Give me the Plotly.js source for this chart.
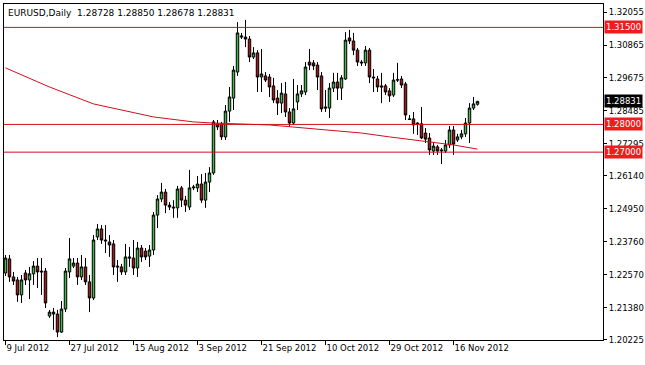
<!DOCTYPE html>
<html>
<head>
<meta charset="utf-8">
<script src="https://cdn.plot.ly/plotly-3.0.1.min.js"></script>
<style>
  html, body { margin: 0; padding: 0; background: #ffffff; }
  #chart { width: 645px; height: 365px; }
</style>
</head>
<body>
<div id="chart"></div>
<script>
// ---- Data: EURUSD Daily (MetaTrader chart, incl. Sunday bars) ----
const startDate = '2012-07-09';
const opens = [
 1.2264,1.2315,1.2250,1.2239,1.2185,1.2264,1.2239,1.2261,1.2289,1.2271,
 1.2271,1.2109,1.2123,1.2116,1.2051,1.2134,1.2268,1.2289,1.2300,1.2250,
 1.2286,1.2232,1.2174,1.2394,1.2423,1.2383,1.2376,1.2369,1.2289,1.2286,
 1.2268,1.2322,1.2318,1.2282,1.2354,1.2343,1.2325,1.2347,1.2473,1.2531,
 1.2556,1.2509,1.2502,1.2499,1.2571,1.2527,1.2502,1.2571,1.2571,1.2585,
 1.2527,1.2592,1.2625,1.2802,1.2802,1.2755,1.2848,1.2895,1.2989,1.3115,
 1.3115,1.3108,1.3043,1.3058,1.2971,1.2975,1.2971,1.2939,1.2895,1.2877,
 1.2910,1.2845,1.2805,1.2881,1.2910,1.2917,1.3025,1.3022,1.3014,1.2975,
 1.2863,1.2859,1.2931,1.2953,1.2931,1.2964,1.3112,1.3101,1.3068,1.3025,
 1.3022,1.3068,1.2971,1.2964,1.2939,1.2939,1.2921,1.2906,1.2960,1.2964,
 1.2946,1.2820,1.2820,1.2805,1.2802,1.2769,1.2751,1.2704,1.2719,1.2708,
 1.2704,1.2726,1.2780,1.2744,1.2755,1.2766,1.2805,1.2859,1.28728
];
const highs = [
 1.2329,1.2329,1.2268,1.2250,1.2257,1.2275,1.2286,1.2307,1.2318,1.2318,
 1.2282,1.2131,1.2138,1.2131,1.2163,1.2282,1.2390,1.2318,1.2318,1.2329,
 1.2318,1.2257,1.2401,1.2441,1.2437,1.2437,1.2401,1.2383,1.2311,1.2297,
 1.2369,1.2358,1.2383,1.2376,1.2365,1.2354,1.2365,1.2484,1.2545,1.2589,
 1.2567,1.2520,1.2527,1.2578,1.2578,1.2542,1.2636,1.2582,1.2614,1.2621,
 1.2625,1.2646,1.2816,1.2816,1.2809,1.2870,1.2935,1.3011,1.3169,1.3130,
 1.3177,1.3119,1.3079,1.3068,1.3072,1.2989,1.2982,1.2968,1.2924,1.2949,
 1.2953,1.2859,1.2964,1.2942,1.2942,1.3025,1.3072,1.3032,1.3025,1.2989,
 1.2924,1.2949,1.2986,1.2986,1.2978,1.3133,1.3141,1.3130,1.3076,1.3032,
 1.3083,1.3076,1.3000,1.2975,1.2986,1.2946,1.2931,1.2986,1.3022,1.2975,
 1.2953,1.2834,1.2845,1.2808,1.2863,1.2787,1.2769,1.2737,1.2726,1.2715,
 1.2744,1.2794,1.2794,1.2766,1.2780,1.2823,1.2877,1.2899,1.28850
];
const lows = [
 1.2253,1.2232,1.2221,1.2160,1.2156,1.2221,1.2170,1.2221,1.2210,1.2185,
 1.2138,1.2102,1.2059,1.2033,1.2048,1.2123,1.2246,1.2282,1.2221,1.2239,
 1.2221,1.2123,1.2167,1.2383,1.2369,1.2336,1.2322,1.2257,1.2232,1.2257,
 1.2257,1.2286,1.2257,1.2250,1.2304,1.2311,1.2286,1.2329,1.2426,1.2520,
 1.2480,1.2491,1.2463,1.2463,1.2502,1.2484,1.2491,1.2563,1.2556,1.2517,
 1.2499,1.2556,1.2618,1.2780,1.2744,1.2744,1.2809,1.2852,1.2975,1.3108,
 1.3079,1.3025,1.3036,1.2917,1.2917,1.2953,1.2899,1.2877,1.2834,1.2841,
 1.2827,1.2791,1.2798,1.2852,1.2899,1.2906,1.2996,1.2996,1.2924,1.2845,
 1.2845,1.2823,1.2917,1.2888,1.2888,1.2960,1.3090,1.3050,1.3011,1.3011,
 1.3011,1.2949,1.2917,1.2917,1.2877,1.2906,1.2881,1.2899,1.2953,1.2931,
 1.2816,1.2816,1.2766,1.2762,1.2747,1.2733,1.2690,1.2690,1.2690,1.2657,
 1.2697,1.2715,1.2690,1.2737,1.2747,1.2755,1.2733,1.2852,1.28678
];
const closes = [
 1.2318,1.2250,1.2235,1.2185,1.2239,1.2239,1.2261,1.2289,1.2268,1.2268,
 1.2156,1.2123,1.2116,1.2051,1.2134,1.2271,1.2315,1.2300,1.2250,1.2286,
 1.2232,1.2174,1.2383,1.2423,1.2383,1.2380,1.2365,1.2286,1.2286,1.2268,
 1.2322,1.2318,1.2282,1.2354,1.2322,1.2322,1.2347,1.2473,1.2531,1.2556,
 1.2509,1.2502,1.2499,1.2567,1.2527,1.2509,1.2571,1.2574,1.2585,1.2527,
 1.2592,1.2625,1.2809,1.2791,1.2755,1.2848,1.2899,1.2996,1.3130,1.3119,
 1.3108,1.3043,1.3058,1.2971,1.2982,1.2960,1.2935,1.2888,1.2877,1.2913,
 1.2845,1.2805,1.2856,1.2910,1.2921,1.3007,1.3014,1.3011,1.2971,1.2856,
 1.2859,1.2931,1.2953,1.2931,1.2968,1.3104,1.3101,1.3068,1.3025,1.3022,
 1.3068,1.2971,1.2968,1.2935,1.2935,1.2917,1.2903,1.2960,1.2961,1.2942,
 1.2834,1.2818,1.2798,1.2802,1.2751,1.2747,1.2708,1.2722,1.2704,1.2705,
 1.2726,1.2780,1.2729,1.2755,1.2766,1.2805,1.2859,1.2874,1.28831
];
// Moving average (red line), read at selected bars
const maBars   = [0, 11, 22, 27, 37, 47, 52, 66, 72, 89, 96, 104, 112, 118];
const maValues = [1.3004,1.2935,1.2874,1.2859,1.2827,1.2809,1.2805,1.2798,1.2791,1.2769,1.2755,1.2740,1.2726,1.2711];
// Horizontal levels
const levels = [1.31500, 1.28000, 1.27000];
const levelLabels = ['1.31500', '1.28000', '1.27000'];
const lastPrice = 1.28831;
const lastLabel = '1.28831';
const headerText = 'EURUSD,Daily\u00a0\u00a01.28728 1.28850 1.28678 1.28831';
// Axis ticks
const yTicks = [1.32055,1.30865,1.29675,1.28485,1.27295,1.26140,1.24950,1.23760,1.22570,1.21380,1.20225];
const yTickText = ['1.32055','1.30865','1.29675','1.28485','1.27295','1.26140','1.24950','1.23760','1.22570','1.21380','1.20225'];
const xTickDates = ['2012-07-09','2012-07-27','2012-08-15','2012-09-03','2012-09-21','2012-10-10','2012-10-29','2012-11-16'];
const xTickText = ['9 Jul 2012','27 Jul 2012','15 Aug 2012','3 Sep 2012','21 Sep 2012','10 Oct 2012','29 Oct 2012','16 Nov 2012'];

// Bar dates: daily bars, Saturdays absent (broker has Sunday bars)
const dates = [];
{
  const d = new Date(startDate + 'T00:00:00Z');
  while (dates.length < closes.length) {
    if (d.getUTCDay() !== 6) dates.push(d.toISOString().slice(0, 10));
    d.setUTCDate(d.getUTCDate() + 1);
  }
}

const FONT = 'DejaVu Sans, Verdana, sans-serif';
const FS = 8.5;
const LINE_RED = '#d0101e';
const BOX_RED = '#ee1c1c';

const traces = [
  {
    type: 'candlestick',
    x: dates, open: opens, high: highs, low: lows, close: closes,
    increasing: { line: { color: '#000000', width: 1 }, fillcolor: '#44b84a' },
    decreasing: { line: { color: '#000000', width: 1 }, fillcolor: '#a01818' },
    whiskerwidth: 0,
    hoverinfo: 'skip',
    showlegend: false
  },
  {
    type: 'scatter', mode: 'lines',
    x: maBars.map(i => dates[i]), y: maValues,
    line: { color: LINE_RED, width: 1 },
    hoverinfo: 'skip', showlegend: false
  }
];

const shapes = levels.map(v => ({
  type: 'line', xref: 'paper', x0: 0, x1: 1, yref: 'y', y0: v, y1: v,
  line: { color: LINE_RED, width: 1 }
}));

const annotations = levels.map((v, i) => ({
  xref: 'paper', x: 1, xanchor: 'left', xshift: 1,
  yref: 'y', y: v, yanchor: 'middle',
  text: levelLabels[i], showarrow: false,
  bgcolor: BOX_RED, borderpad: 1,
  font: { family: FONT, size: FS, color: '#ffffff' }
}));
annotations.push({
  xref: 'paper', x: 1, xanchor: 'left', xshift: 1,
  yref: 'y', y: lastPrice, yanchor: 'middle',
  text: lastLabel, showarrow: false,
  bgcolor: '#000000', borderpad: 1,
  font: { family: FONT, size: FS, color: '#ffffff' }
});

const layout = {
  width: 645, height: 365,
  margin: { l: 4, r: 42, t: 4, b: 25, pad: 0 },
  paper_bgcolor: '#ffffff', plot_bgcolor: '#ffffff',
  font: { family: FONT, size: FS, color: '#000000' },
  title: {
    text: headerText, xref: 'container', yref: 'container',
    x: 8 / 645, xanchor: 'left', y: 1 - 13 / 365, yanchor: 'middle',
    font: { family: FONT, size: FS + 0.5, color: '#000000' }
  },
  boxgap: 0.12,
  xaxis: {
    type: 'category', range: [-0.375, 149.375],
    rangeslider: { visible: false },
    showgrid: false, zeroline: false,
    showline: true, linecolor: '#000000', linewidth: 1, mirror: true,
    tickmode: 'array', tickvals: xTickDates, ticktext: xTickText,
    ticks: 'outside', ticklen: 4, tickcolor: '#000000',
    ticklabelposition: 'outside right',
    tickfont: { family: FONT, size: FS, color: '#000000' },
    fixedrange: true
  },
  yaxis: {
    side: 'right', range: [1.20224, 1.32344],
    showgrid: false, zeroline: false,
    showline: true, linecolor: '#000000', linewidth: 1, mirror: true,
    tickmode: 'array', tickvals: yTicks, ticktext: yTickText,
    ticks: 'outside', ticklen: 3, tickcolor: '#000000',
    tickfont: { family: FONT, size: FS, color: '#000000' },
    fixedrange: true
  },
  shapes: shapes,
  annotations: annotations,
  hovermode: false
};

Plotly.newPlot('chart', traces, layout, { staticPlot: true, displayModeBar: false });
</script>
</body>
</html>
